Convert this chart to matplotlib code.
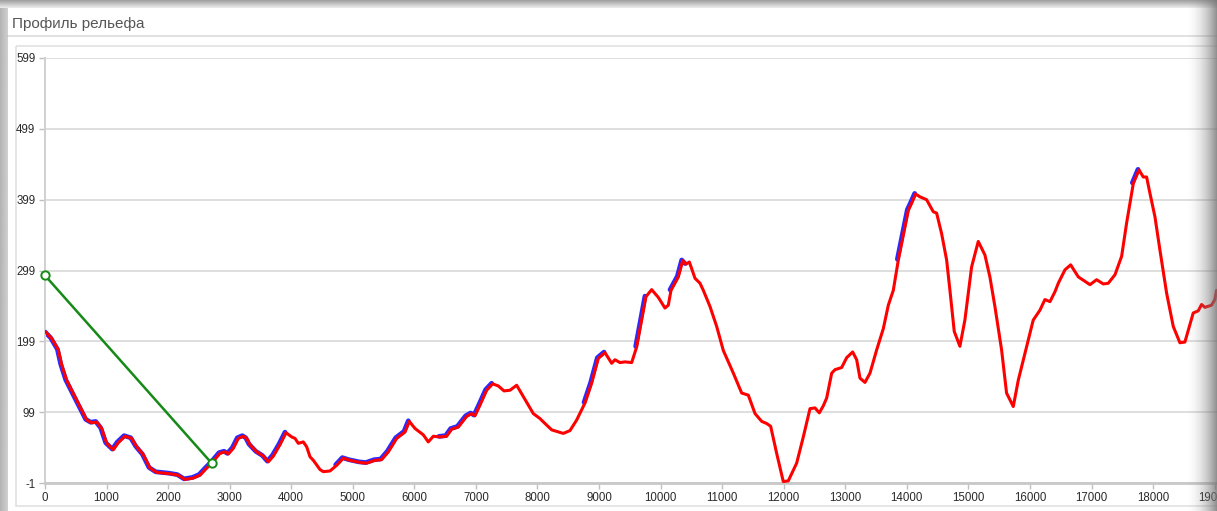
import numpy as np
import matplotlib
matplotlib.use("Agg")
import matplotlib.pyplot as plt
from matplotlib import transforms
from matplotlib.patches import Rectangle

# ---------------- data ----------------
title = "Профиль рельефа"

dist = [0, 109, 217, 271, 352, 433, 514, 596, 677, 758, 840, 921, 1002, 1110,
        1191, 1300, 1408, 1490, 1597, 1706, 1814, 2031, 2166, 2274, 2410, 2518,
        2626, 2707, 2843, 2924, 2978, 3059, 3140, 3221, 3277, 3330, 3439, 3547,
        3628, 3709, 3817, 3915, 4008, 4061, 4115, 4196, 4251, 4305, 4359, 4467,
        4521, 4630, 4738, 4846, 4955, 5117, 5225, 5361, 5469, 5577, 5713, 5848,
        5918, 6010, 6145, 6226, 6308, 6416, 6524, 6606, 6714, 6849, 6930, 6985,
        7066, 7174, 7272, 7364, 7456, 7554, 7662, 7770, 7932, 8040, 8122, 8231,
        8419, 8528, 8637, 8772, 8880, 8988, 9097, 9205, 9259, 9340, 9421, 9530,
        9611, 9692, 9762, 9855, 9963, 10071, 10125, 10169, 10288, 10359, 10413,
        10467, 10559, 10640, 10694, 10803, 10911, 11019, 11182, 11317, 11425,
        11534, 11642, 11723, 11788, 11885, 11993, 12074, 12210, 12318, 12427,
        12508, 12578, 12643, 12698, 12779, 12833, 12941, 13023, 13120, 13185,
        13239, 13320, 13401, 13510, 13618, 13699, 13780, 13862, 13943, 14024,
        14078, 14143, 14213, 14321, 14429, 14484, 14565, 14646, 14700, 14770,
        14862, 14943, 15052, 15160, 15268, 15349, 15431, 15539, 15620, 15729,
        15810, 15918, 16053, 16162, 16243, 16325, 16406, 16460, 16569, 16661,
        16785, 16975, 17083, 17191, 17272, 17381, 17489, 17570, 17679, 17771,
        17841, 17895, 17949, 18030, 18111, 18220, 18328, 18436, 18517, 18652,
        18733, 18788, 18842, 18950, 19004, 19031]

elev = [213, 203, 187, 166, 144, 130, 116, 102, 88, 84, 85, 76, 55, 46,
        56, 65, 62, 50, 39, 20, 14, 12, 10, 4, 6, 10,
        20, 27, 41, 43, 40, 48, 62, 65, 62, 53, 43, 37,
        29, 37, 53, 70, 64, 62, 55, 57, 50, 36, 31, 18,
        15, 16, 24, 34, 31, 28, 27, 31, 32, 43, 62, 71,
        86, 76, 67, 57, 65, 64, 65, 75, 78, 93, 97, 94,
        109, 130, 139, 136, 129, 130, 137, 121, 97, 90, 83, 74,
        69, 73, 88, 112, 140, 175, 183, 168, 173, 169, 170, 169,
        191, 229, 262, 272, 261, 246, 250, 271, 290, 313, 308,
        311, 288, 281, 271, 248, 220, 186, 154, 126, 123,
        97, 86, 83, 79, 41, 1, 2, 27, 64, 104,
        105, 98, 108, 119, 154, 159, 162, 176, 184, 173,
        147, 141, 154, 187, 217, 250, 271, 314, 349, 384,
        394, 407, 403, 399, 382, 380, 351, 314, 271, 213,
        192, 229, 304, 340, 321, 290, 248, 187, 126, 107,
        144, 182, 229, 243, 258, 255, 269, 281, 300, 307,
        290, 279, 286, 280, 281, 293, 319, 366, 422, 441,
        431, 431, 408, 375, 328, 267, 220, 197, 198, 239,
        242, 251, 247, 250, 258, 271]

# stretches of the profile that are also traced in blue
blue_start = [0, 4738, 6416, 8772, 9611, 10169, 13862, 17679]
blue_end = [3915, 5918, 7272, 9097, 9762, 10413, 14143, 17771]

# line of sight (green)
los_x = [0, 2707]
los_y = [292, 27]

y_ticks = [-1, 99, 199, 299, 399, 499, 599]
x_ticks = list(range(0, 20000, 1000))

# ---------------- figure ----------------
W, H = 1217, 511
fig = plt.figure(figsize=(W / 100, H / 100), dpi=100)
plt.rcParams['font.family'] = ['Liberation Sans', 'DejaVu Sans']


def px_axes(z):
    a = fig.add_axes([0, 0, 1, 1], zorder=z)
    a.set_xlim(0, W)
    a.set_ylim(H, 0)
    a.axis('off')
    return a


# background panel
bg = px_axes(0)
bg.add_patch(Rectangle((0, 0), W, H, color='white', lw=0))
bg.plot([8, W], [36.5, 36.5], color='#dcdcdc', lw=1.2)
bg.add_patch(Rectangle((15.5, 46.5), W + 20, 460, fill=False,
                       edgecolor='#e2e2e2', lw=1.2))
bg.text(12, 24, title, fontsize=11, color='#555555', va='center', ha='left')

# main chart axes
x_px_per_1000 = 61.56
x_left_px, x_max = 45, 19500
x_right_px = x_left_px + x_max / 1000 * x_px_per_1000
y_top_px, y_bot_px = 58, 483
ax = fig.add_axes([x_left_px / W, (H - y_bot_px) / H,
                   (x_right_px - x_left_px) / W, (y_bot_px - y_top_px) / H],
                  zorder=1)
ax.set_xlim(0, x_max)
ax.set_ylim(-1, 599)
ax.set_yticks(y_ticks)
ax.set_xticks(x_ticks)
ax.set_yticklabels([str(v) for v in y_ticks])
ax.set_xticklabels([str(v) for v in x_ticks])
ax.grid(axis='y', color='#dedede', lw=1.4)
ax.set_axisbelow(True)
for s in ['top', 'right']:
    ax.spines[s].set_visible(False)
ax.spines['left'].set_color('#d0d0d0')
ax.spines['left'].set_linewidth(1.4)
ax.spines['bottom'].set_color('#c8c8c8')
ax.spines['bottom'].set_linewidth(2.0)
ax.tick_params(axis='both', labelsize=8.3, labelcolor='#2a2a2a',
               color='#c0c0c0', length=4, width=1)
ax.tick_params(axis='y', pad=3)
ax.tick_params(axis='x', pad=2.5)

dist_a = np.array(dist, dtype=float)
elev_a = np.array(elev, dtype=float)

off = transforms.offset_copy(ax.transData, fig=fig, x=-1.0, y=0.6, units='dots')
for s, e in zip(blue_start, blue_end):
    m = (dist_a >= s) & (dist_a <= e)
    ax.plot(dist_a[m], elev_a[m], color='#2a2aff', lw=3.4, transform=off,
            solid_capstyle='round', solid_joinstyle='round', zorder=2)

ax.plot(dist_a, elev_a, color='#ff0000', lw=2.2, solid_joinstyle='round',
        solid_capstyle='round', zorder=3)

ax.plot(los_x, los_y, color='#168a16', lw=1.8, zorder=4)
ax.plot(los_x, los_y, 'o', mfc='white', mec='#168a16', ms=6, mew=1.4,
        zorder=5, clip_on=False)

# window shading overlays
ov = px_axes(10)
n = 64
top = np.zeros((n, 1, 4))
top[..., :3] = 0.55
top[:, 0, 3] = np.linspace(0.85, 0.15, n)
ov.imshow(top, extent=[0, W, 8, 0], aspect='auto', interpolation='bilinear')
left = np.zeros((1, n, 4))
left[..., :3] = 0.6
left[0, :, 3] = np.linspace(0.75, 0.45, n)
ov.imshow(left, extent=[0, 8, H, 8], aspect='auto', interpolation='bilinear')
right = np.zeros((1, 128, 4))
right[..., :3] = 0.45
right[0, :, 3] = np.linspace(0, 1, 128) ** 2 * 0.8
ov.imshow(right, extent=[1185, W, H, 0], aspect='auto', interpolation='bilinear')
ov.set_xlim(0, W)
ov.set_ylim(H, 0)

fig.savefig('out.png', dpi=100)
